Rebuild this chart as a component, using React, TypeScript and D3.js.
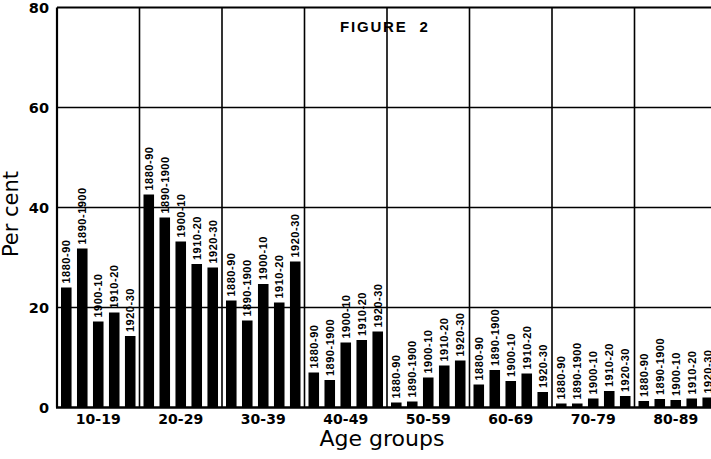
import React from "react";
import * as d3 from "d3";

const ageGroups = ["10-19", "20-29", "30-39", "40-49", "50-59", "60-69", "70-79", "80-89"];
const periods = ["1880-90", "1890-1900", "1900-10", "1910-20", "1920-30"];
const v1880 = [24.0, 42.6, 21.4, 7.0, 1.0, 4.6, 0.8, 1.3];
const v1890 = [31.8, 38.0, 17.4, 5.5, 1.2, 7.5, 0.8, 1.7];
const v1900 = [17.2, 33.2, 24.7, 13.0, 6.0, 5.3, 1.8, 1.5];
const v1910 = [19.0, 28.7, 21.0, 13.5, 8.4, 6.8, 3.3, 1.8];
const v1920 = [14.3, 28.0, 29.2, 15.2, 9.4, 3.1, 2.3, 2.0];
const yTicks = [0, 20, 40, 60, 80];
const seriesValues = [v1880, v1890, v1900, v1910, v1920];

export default function App() {
  const W = 711, H = 459;
  const left = 57, top = 7.5, bottom = 407.5;
  const groupW = 82.5;
  const x0 = d3.scaleBand<string>().domain(ageGroups).range([left, left + groupW * ageGroups.length]).padding(0);
  const x1 = d3.scaleBand<string>().domain(periods).range([0, x0.bandwidth()]).paddingInner(0.34).paddingOuter(0.25);
  const y = d3.scaleLinear().domain([0, 80]).range([bottom, top]);
  const font = "'DejaVu Sans', sans-serif";
  const gridX = ageGroups.map((g) => x0(g) as number).concat([left + groupW * ageGroups.length]);

  return (
    <svg width={W} height={H} style={{ position: "absolute", left: 0, top: 0, background: "#fff" }}>
      <rect x={0} y={0} width={W} height={H} fill="#fff" />
      {yTicks.filter((t) => t > 0).map((t) => (
        <line key={"h" + t} x1={left} x2={W} y1={y(t)} y2={y(t)} stroke="#000" strokeWidth={t === 80 ? 2 : 1.6} />
      ))}
      {gridX.map((gx, i) => (
        <line key={"v" + i} x1={gx} x2={gx} y1={top} y2={bottom} stroke="#000" strokeWidth={i === 0 ? 2.2 : 1.6} />
      ))}
      {ageGroups.map((g, gi) => (
        <g key={g} transform={`translate(${x0(g)},0)`}>
          {periods.map((p, pi) => {
            const v = seriesValues[pi][gi];
            const bx = x1(p) as number;
            const bw = x1.bandwidth();
            return (
              <g key={p}>
                <rect x={bx} y={y(v)} width={bw} height={bottom - y(v)} fill="#000" />
                <text
                  transform={`translate(${bx + bw / 2 + 4},${y(v) - 4}) rotate(-90)`}
                  fontFamily="'Liberation Sans', sans-serif"
                  fontWeight="bold"
                  fontSize={11}
                  letterSpacing={0.5}
                  fill="#000"
                >
                  {p}
                </text>
              </g>
            );
          })}
        </g>
      ))}
      <line x1={left - 1} x2={W} y1={bottom} y2={bottom} stroke="#000" strokeWidth={2.5} />
      {yTicks.map((t) => (
        <text key={"yt" + t} x={49} y={y(t) + 5.5} textAnchor="end" fontFamily={font} fontWeight="bold" fontSize={14.5} fill="#000">
          {t}
        </text>
      ))}
      {ageGroups.map((g) => (
        <text key={"xt" + g} x={(x0(g) as number) + groupW / 2} y={424} textAnchor="middle" fontFamily={font} fontWeight="bold" fontSize={14} fill="#000">
          {g}
        </text>
      ))}
      <text x={382} y={446} textAnchor="middle" fontFamily={font} fontSize={22} fill="#000">Age groups</text>
      <text transform={`translate(18,214) rotate(-90)`} textAnchor="middle" fontFamily={font} fontSize={21} fill="#000">Per cent</text>
      <text x={340} y={32} fontFamily="'Liberation Sans', sans-serif" fontWeight="bold" fontSize={15} letterSpacing={1.8} style={{ whiteSpace: "pre" }} fill="#000">
        {"FIGURE  2"}
      </text>
    </svg>
  );
}
